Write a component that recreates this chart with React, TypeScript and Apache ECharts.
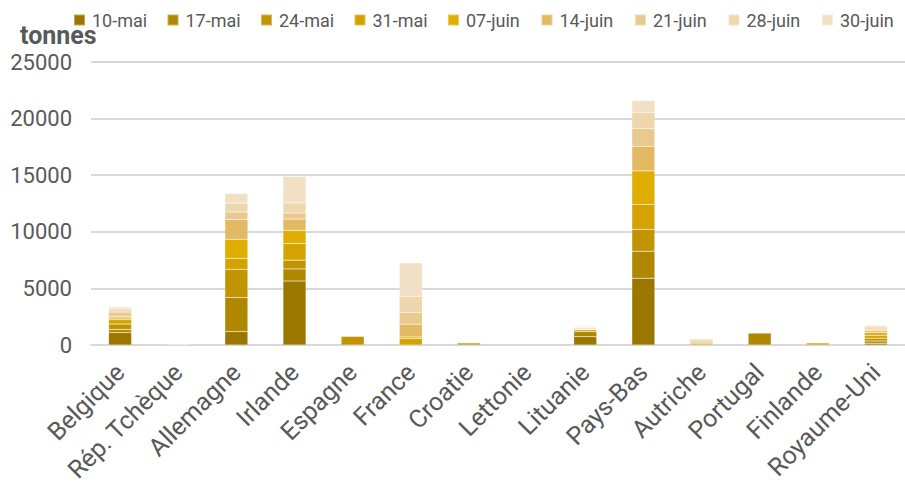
import React, { useEffect, useRef } from "react";
import * as echarts from "echarts";

const countries = [
  "Belgique", "Rép. Tchèque", "Allemagne", "Irlande", "Espagne", "France", "Croatie",
  "Lettonie", "Lituanie", "Pays-Bas", "Autriche", "Portugal", "Finlande", "Royaume-Uni",
];
const weeks = ["10-mai", "17-mai", "24-mai", "31-mai", "07-juin", "14-juin", "21-juin", "28-juin", "30-juin"];
const colors = ["#9c7700", "#b08700", "#c29500", "#d4a300", "#e0ae00", "#e3b964", "#e9c98e", "#eed6ad", "#f2e0c4"];

const v10mai = [1100, 0, 1190, 5650, 0, 0, 0, 0, 740, 5900, 0, 0, 0, 150];
const v17mai = [270, 0, 3000, 1070, 0, 0, 0, 0, 440, 2380, 0, 1050, 0, 200];
const v24mai = [475, 0, 2500, 775, 760, 0, 180, 0, 150, 1930, 0, 0, 0, 250];
const v31mai = [385, 0, 950, 1460, 0, 560, 0, 0, 60, 2200, 100, 0, 180, 250];
const v07juin = [150, 0, 1700, 1160, 0, 150, 0, 0, 40, 2970, 100, 0, 0, 250];
const v14juin = [150, 0, 1750, 1010, 0, 1130, 0, 0, 80, 2170, 150, 0, 0, 150];
const v21juin = [385, 0, 655, 535, 0, 1040, 0, 0, 60, 1580, 100, 0, 0, 150];
const v28juin = [270, 40, 800, 890, 0, 1430, 0, 0, 70, 1420, 100, 0, 0, 200];
const v30juin = [180, 30, 830, 2350, 0, 2950, 0, 0, 60, 1040, 60, 0, 0, 150];

const seriesValues = [v10mai, v17mai, v24mai, v31mai, v07juin, v14juin, v21juin, v28juin, v30juin];
const yTicks = { min: 0, max: 25000, interval: 5000 };

const FONT = "Roboto, 'Noto Sans', sans-serif";
const TXT = "#595959";

export default function App() {
  const ref = useRef<HTMLDivElement>(null);
  useEffect(() => {
    document.body.style.margin = "0";
    if (!ref.current) return;
    const chart = echarts.init(ref.current, null, { renderer: "svg" });
    const legendLefts = [73, 166.5, 260, 353.5, 447, 540.5, 634, 727.5, 821];
    chart.setOption({
      animation: false,
      textStyle: { fontFamily: FONT },
      legend: weeks.map((w, i) => ({
        data: [w],
        left: legendLefts[i],
        top: 11,
        itemWidth: 11,
        itemHeight: 11,
        itemGap: 0,
        icon: "rect",
        padding: 0,
        textStyle: { color: TXT, fontSize: 18, fontFamily: FONT, padding: [0, 0, 0, 2] },
      })),
      grid: { left: 91, right: -15, top: 62, bottom: 142, containLabel: false },
      graphic: [
        {
          type: "text",
          left: 20,
          top: 23,
          style: { text: "tonnes", fill: TXT, fontSize: 25, fontWeight: "bold", fontFamily: FONT },
        },
      ],
      xAxis: {
        type: "category",
        data: countries,
        axisTick: { show: false },
        axisLine: { lineStyle: { color: "#d9d9d9", width: 2 } },
        axisLabel: { rotate: 45, interval: 0, color: TXT, fontSize: 25, margin: 23, fontFamily: FONT },
      },
      yAxis: {
        type: "value",
        min: yTicks.min,
        max: yTicks.max,
        interval: yTicks.interval,
        axisLabel: { color: TXT, fontSize: 22, margin: 19, fontFamily: FONT, formatter: (v: number) => String(v) },
        splitLine: { lineStyle: { color: "#d9d9d9", width: 2 } },
        axisLine: { show: false },
        axisTick: { show: false },
      },
      series: weeks.map((w, i) => ({
        name: w,
        type: "bar",
        stack: "total",
        barWidth: 23,
        color: colors[i],
        itemStyle: { color: colors[i], borderColor: "rgba(255,255,255,0.35)", borderWidth: 0.5 },
        data: seriesValues[i].map((v) => (v === 0 ? "-" : v)),
      })),
    });
    return () => chart.dispose();
  }, []);
  return <div ref={ref} style={{ width: 905, height: 487 }} />;
}
